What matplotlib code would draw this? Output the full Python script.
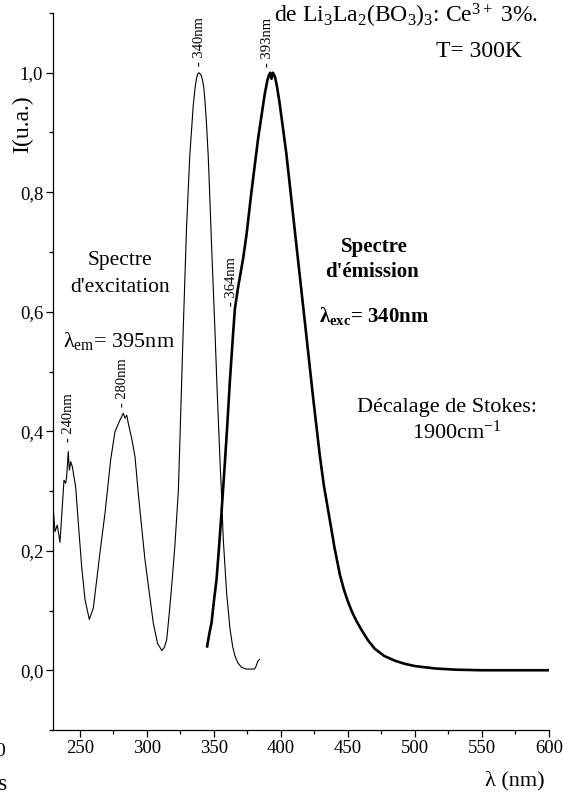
import matplotlib
matplotlib.use("Agg")
import matplotlib.pyplot as plt
from matplotlib.ticker import MultipleLocator, FuncFormatter

# ---- data ----
exc_wl = [229.8, 231.5, 233.2, 235.2, 238.2, 239.5, 240.2, 241.4, 242.2, 243.2, 244.4,
          246.9, 248.9, 251.4, 253.9, 257.1, 260.1, 265.1, 268.8, 273.0, 276.2, 280.0,
          281.2, 282.4, 283.7, 285.0, 286.2, 288.7, 291.2, 293.6, 298.6, 304.8, 308.0,
          311.1, 313.0, 314.8, 316.5, 318.5, 320.9, 323.5, 324.6, 327.0, 329.6, 332.0,
          334.6, 336.0, 337.0, 338.0, 339.0, 340.5, 341.5, 342.5, 343.3, 344.5, 345.8,
          347.0, 348.3, 350.7, 352.5, 354.5, 355.7, 357.0, 359.5, 362.0, 364.0, 365.7,
          368.0, 370.6, 374.0, 377.0, 380.0, 381.0, 383.0, 384.0]
exc_int = [0.282, 0.232, 0.243, 0.214, 0.318, 0.313, 0.324, 0.366, 0.335, 0.349, 0.341,
           0.307, 0.246, 0.173, 0.118, 0.085, 0.104, 0.198, 0.263, 0.352, 0.399, 0.419,
           0.424, 0.430, 0.422, 0.427, 0.413, 0.388, 0.357, 0.296, 0.185, 0.079, 0.045,
           0.033, 0.038, 0.051, 0.090, 0.140, 0.208, 0.300, 0.380, 0.560, 0.740, 0.860,
           0.945, 0.975, 0.990, 0.998, 1.000, 0.996, 0.988, 0.975, 0.955, 0.915, 0.860,
           0.790, 0.710, 0.575, 0.465, 0.355, 0.295, 0.220, 0.130, 0.070, 0.040, 0.024,
           0.012, 0.005, 0.002, 0.002, 0.002, 0.004, 0.016, 0.018]

em_wl = [345.0, 346.5, 348.3, 350.0, 352.0, 354.0, 355.7, 358.2, 360.0, 362.0, 364.4,
         365.7, 368.0, 371.9, 374.4, 378.0, 383.0, 386.0, 388.0, 390.0, 391.0, 392.0,
         393.0, 394.0, 395.5, 397.0, 399.0, 404.0, 409.0, 414.0, 419.0, 424.0, 429.0,
         432.0, 436.6, 440.0, 444.0, 447.0, 450.0, 453.0, 456.0, 460.0, 465.0, 470.0,
         477.0, 485.0, 492.0, 500.0, 515.0, 530.0, 550.0, 575.0, 600.0]
em_int = [0.040, 0.060, 0.080, 0.115, 0.152, 0.210, 0.264, 0.347, 0.410, 0.486, 0.565,
          0.605, 0.640, 0.690, 0.730, 0.800, 0.890, 0.935, 0.965, 0.988, 0.995, 1.000,
          0.990, 1.000, 0.994, 0.978, 0.950, 0.866, 0.764, 0.662, 0.560, 0.457, 0.360,
          0.310, 0.250, 0.205, 0.160, 0.135, 0.115, 0.098, 0.084, 0.068, 0.050, 0.036,
          0.024, 0.016, 0.011, 0.007, 0.003, 0.001, 0.000, 0.000, 0.000]

peak_labels = ["- 240nm", "- 280nm", "- 340nm", "- 364nm", "- 393nm"]
peak_x = [241.4, 282.0, 339.0, 363.4, 390.3]
peak_y = [0.382, 0.440, 1.012, 0.610, 1.010]

SERIF = "Liberation Serif"
plt.rcParams["font.family"] = [SERIF, "DejaVu Serif"]
plt.rcParams["mathtext.fontset"] = "custom"
plt.rcParams["mathtext.rm"] = SERIF
plt.rcParams["mathtext.it"] = SERIF + ":italic"
plt.rcParams["mathtext.bf"] = SERIF + ":bold"

fig = plt.figure(figsize=(5.64, 7.93), dpi=100)
ax = fig.add_axes([53 / 564, 63 / 793, 496 / 564, 717 / 793])

ax.plot(exc_wl, exc_int, color="black", lw=0.8)
ax.plot(em_wl, em_int, color="black", lw=1.9)

ax.set_xlim(230, 600)
ax.set_ylim(-0.1, 1.1)
for s in ("top", "right"):
    ax.spines[s].set_visible(False)
for s in ("left", "bottom"):
    ax.spines[s].set_linewidth(0.9)

ax.xaxis.set_major_locator(MultipleLocator(50))
ax.xaxis.set_minor_locator(MultipleLocator(25))
ax.yaxis.set_major_locator(MultipleLocator(0.2))
ax.yaxis.set_minor_locator(MultipleLocator(0.1))
ax.yaxis.set_major_formatter(FuncFormatter(lambda v, p: f"{v:.1f}".replace(".", ",").replace("-0,0", "0,0")))
ax.tick_params(which="major", direction="out", length=5, width=0.9, labelsize=13.5, pad=2)
ax.tick_params(which="minor", direction="out", length=3, width=0.9)

ax.set_ylabel("I(u.a.)", fontsize=17)
ax.yaxis.set_label_coords(-0.040, 0.845)
fig.text(515 / 564, 1 - 781 / 793, "λ (nm)", fontsize=16, ha="center", va="center")

for lab, x, y in zip(peak_labels, peak_x, peak_y):
    ax.text(x, y, lab, rotation=90, ha="center", va="bottom", fontsize=10.5)

# excitation annotations
ax.text(280, 0.678, "Spectre", fontsize=15.5, ha="center", va="baseline")
ax.text(280, 0.633, "d'excitation", fontsize=15.5, ha="center", va="baseline")
ax.text(279.6, 0.541, "λ$_{\\mathrm{em}}$= 395nm", fontsize=16, ha="center", va="baseline")

# emission annotations
ax.text(469.5, 0.700, "Spectre", fontsize=15, ha="center", va="baseline", fontweight="bold")
ax.text(468, 0.658, "d'émission", fontsize=15, ha="center", va="baseline", fontweight="bold")
ax.text(469.5, 0.583, "λ$_{\\mathbf{exc}}$= 340nm", fontsize=15, ha="center", va="baseline",
        fontweight="bold")

ax.text(524, 0.432, "Décalage de Stokes:", fontsize=16, ha="center", va="baseline")
ax.text(531.5, 0.388, "1900cm$^{-1}$", fontsize=16, ha="center", va="baseline")

# title lines (partly cut at top)
fig.text(406 / 564, 1 - 23 / 793, "de Li$_3$La$_2$(BO$_3$)$_3$: Ce$^{3+}$ 3%.", fontsize=17,
         ha="center", va="baseline")
fig.text(479 / 564, 1 - 57 / 793, "T= 300K", fontsize=17, ha="center", va="baseline")

# cut-off remnants of neighbouring text at left border
fig.text(0.0, 1 - 756 / 793, "0", fontsize=14, ha="center", va="baseline")
fig.text(3 / 564, 1 - 790 / 793, "s", fontsize=17, ha="center", va="baseline")

fig.savefig("out.png", dpi=100)
